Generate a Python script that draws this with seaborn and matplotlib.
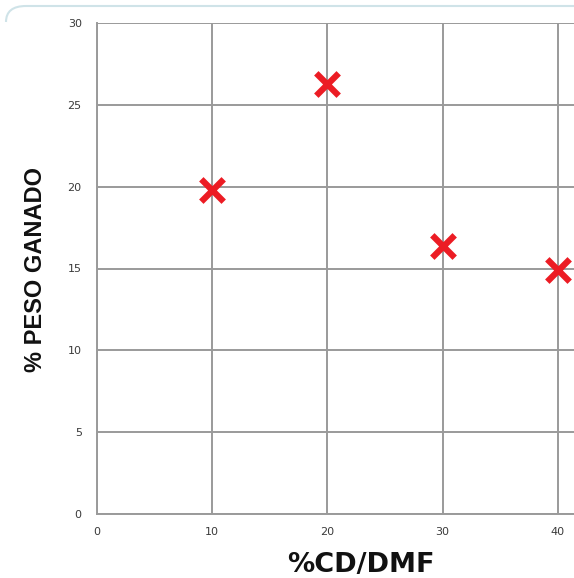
import matplotlib
matplotlib.use("Agg")
import matplotlib.pyplot as plt
import seaborn as sns
import pandas as pd
from matplotlib.path import Path
from matplotlib.patches import PathPatch

# data
cd_dmf = [10, 20, 30, 40]
peso_ganado = [19.8, 26.3, 16.4, 14.9]
x_ticks = [0, 10, 20, 30, 40]
y_ticks = [0, 5, 10, 15, 20, 25, 30]

df = pd.DataFrame({"cd": cd_dmf, "peso": peso_ganado})

sns.set_style("white")
plt.rcParams["font.family"] = ["DejaVu Sans"]

W, H = 574, 578
fig = plt.figure(figsize=(W / 100, H / 100), dpi=100)

# faint rounded chart frame at the top-left corner
verts = [(6 / W, 1 - 22 / H), (6 / W, 1 - 6 / H), (26 / W, 1 - 6 / H), (1.0, 1 - 6 / H)]
codes = [Path.MOVETO, Path.CURVE3, Path.CURVE3, Path.LINETO]
fig.patches.append(PathPatch(Path(verts, codes), transform=fig.transFigure,
                             fill=False, edgecolor="#cfe3e8", linewidth=1.5))

ax = fig.add_axes([97 / W, 1 - 514 / H, (W - 97) / W, 491 / H])

sns.scatterplot(
    data=df, x="cd", y="peso",
    marker="x", s=260, color="#ec1c24",
    linewidth=4.5, ax=ax, zorder=3, clip_on=False
)

ax.set_xlim(0, 41.4)
ax.set_ylim(0, 30)
ax.set_xticks(x_ticks)
ax.set_yticks(y_ticks)
ax.grid(True, color="#9a9a9a", linewidth=1.4)
ax.set_axisbelow(True)

for side in ["top", "right"]:
    ax.spines[side].set_visible(False)
for side in ["left", "bottom"]:
    ax.spines[side].set_color("#9a9a9a")
    ax.spines[side].set_linewidth(1.4)

ax.tick_params(axis="both", length=6, width=1.4, color="#9a9a9a",
               labelsize=8, labelcolor="#3a3a3a", direction="out")
ax.tick_params(axis="y", pad=5)

ax.set_xlabel("%CD/DMF", fontsize=19.5, fontweight="bold",
              family=["DejaVu Sans"], color="#111111")
ax.xaxis.set_label_coords(0.553, -0.077)
ax.set_ylabel("% PESO GANADO", fontsize=17, fontweight="bold",
              family=["Liberation Sans"], color="#111111")
ax.yaxis.set_label_coords(-0.105, 0.497)

fig.savefig("out.png", dpi=100)
